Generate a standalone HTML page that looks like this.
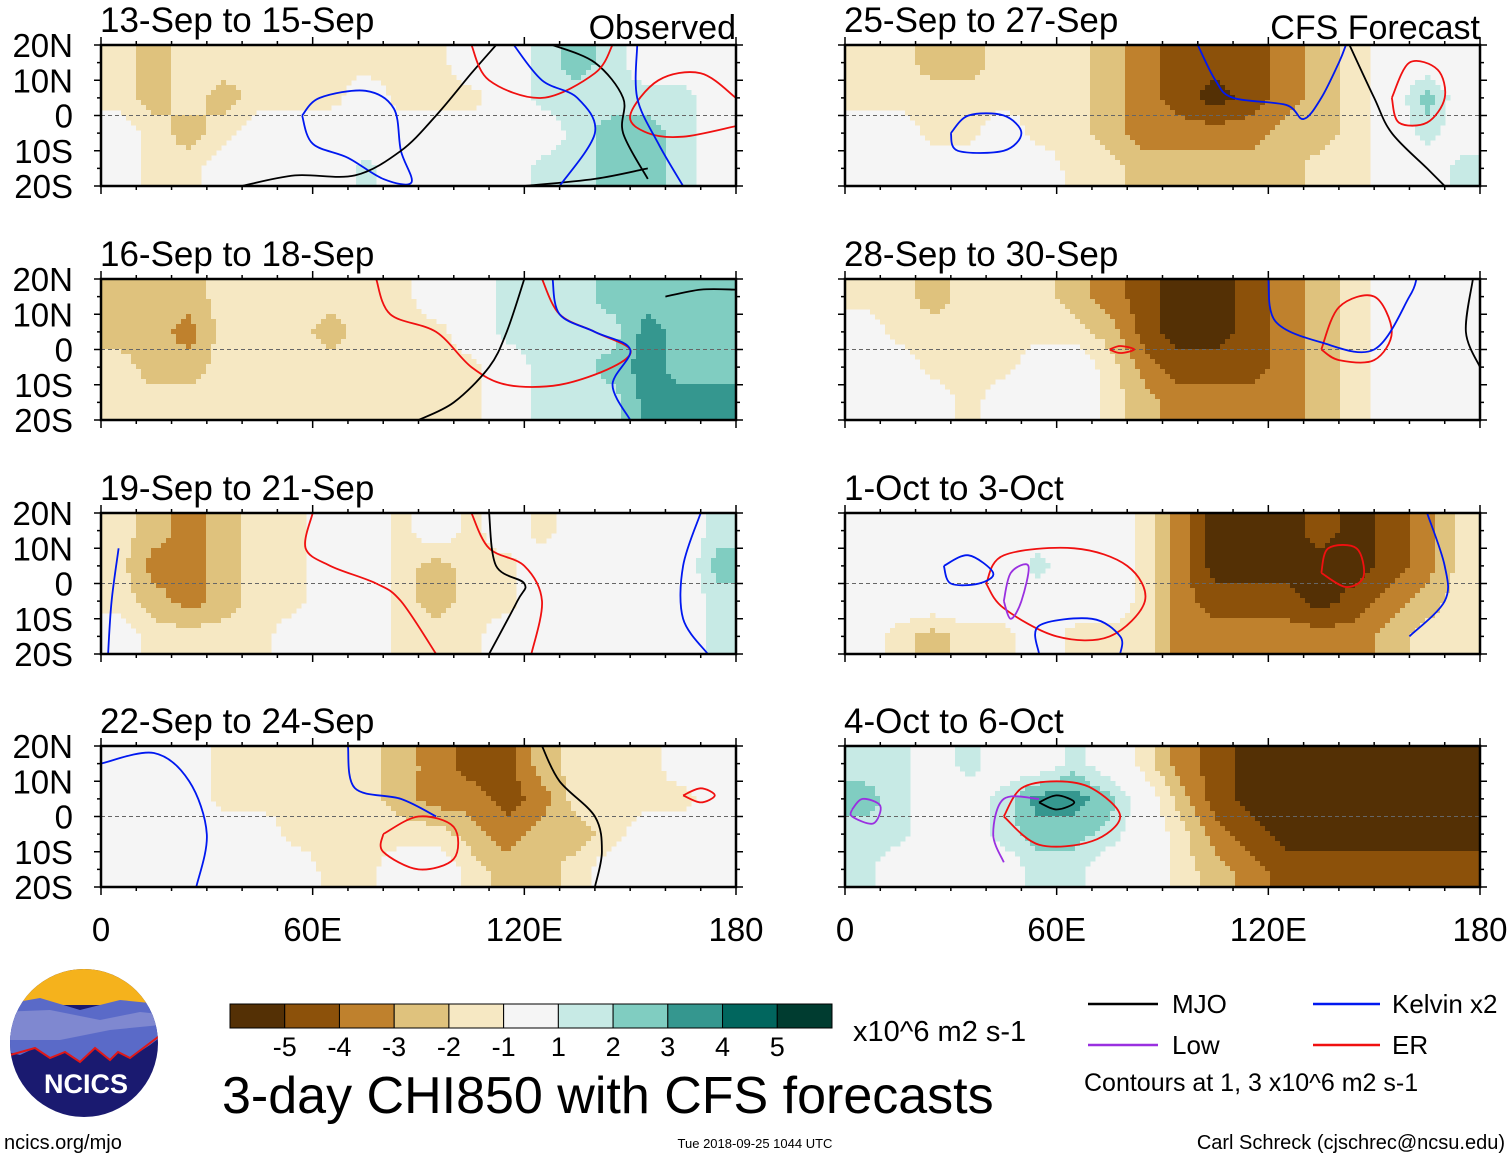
<!DOCTYPE html>
<html><head><meta charset="utf-8"><style>
html,body{margin:0;padding:0;background:#fff;}
svg{display:block;font-family:"Liberation Sans",Arial,sans-serif;}
</style></head><body>
<svg id="chart" width="1510" height="1159" viewBox="0 0 1510 1159" xmlns="http://www.w3.org/2000/svg">
<g id="panels"></g>
<g id="legend-area">
  <g id="colorbar"></g>
  <text x="853" y="1041" font-size="29">x10^6 m2 s-1</text>
  <text x="222" y="1113" font-size="52">3-day CHI850 with CFS forecasts</text>
  <g><line x1="1088" y1="1004" x2="1158" y2="1004" stroke="#000" stroke-width="2.5"/><text x="1172" y="1013" font-size="26">MJO</text></g>
  <g><line x1="1313" y1="1004" x2="1380" y2="1004" stroke="#0018f0" stroke-width="2.5"/><text x="1392" y="1013" font-size="26">Kelvin x2</text></g>
  <g><line x1="1088" y1="1045" x2="1158" y2="1045" stroke="#9a30e0" stroke-width="2.5"/><text x="1172" y="1054" font-size="26">Low</text></g>
  <g><line x1="1313" y1="1045" x2="1380" y2="1045" stroke="#f01010" stroke-width="2.5"/><text x="1392" y="1054" font-size="26">ER</text></g>
  <text x="1084" y="1091" font-size="25">Contours at 1, 3 x10^6 m2 s-1</text>
  <text x="4" y="1149" font-size="20">ncics.org/mjo</text>
  <text x="755" y="1148" font-size="13" text-anchor="middle">Tue 2018-09-25 1044 UTC</text>
  <text x="1505" y="1149" font-size="20" text-anchor="end">Carl Schreck (cjschrec@ncsu.edu)</text>
  <g>
    <clipPath id="logoclip"><circle cx="84" cy="1043" r="74"/></clipPath>
    <g clip-path="url(#logoclip)">
      <rect x="0" y="960" width="170" height="170" fill="#1a1a70"/>
      <rect x="0" y="965" width="170" height="40" fill="#f5b21c"/>
      <path d="M0 1005 L40 998 L80 1010 L120 1000 L170 1005 L170 1030 L150 1045 L130 1058 L118 1052 L110 1060 L95 1048 L80 1062 L65 1052 L50 1058 L35 1048 L20 1055 L0 1050 Z" fill="#5a6ac8"/>
      <path d="M0 1012 L50 1010 L100 1020 L140 1012 L170 1015 L160 1025 L110 1030 L60 1040 L0 1040 Z" fill="#7f88d0"/>
      <path d="M10 1055 L35 1048 L50 1058 L65 1052 L80 1062 L95 1048 L110 1060 L118 1052 L130 1058 L170 1028" fill="none" stroke="#e01818" stroke-width="2"/>
    </g>
    <text x="86" y="1093" font-size="27" font-weight="bold" fill="#fff" text-anchor="middle">NCICS</text>
  </g>
</g>
</svg>
<script>
// ---- data ----
const lonTicks = ["0","60E","120E","180"];
const latTicks = ["20N","10N","0","10S","20S"];
const titles = ["13-Sep to 15-Sep","16-Sep to 18-Sep","19-Sep to 21-Sep","22-Sep to 24-Sep","25-Sep to 27-Sep","28-Sep to 30-Sep","1-Oct to 3-Oct","4-Oct to 6-Oct"];
const levels = [-5,-4,-3,-2,-1,1,2,3,4,5];
const levelLabels = ["-5","-4","-3","-2","-1","1","2","3","4","5"];
const palette = ["#543005","#8c510a","#bf812d","#dfc27d","#f6e8c3","#f5f5f5","#c7eae5","#80cdc1","#35978f","#01665e","#003c30"];
const field0 = [
[-1.5,-2.5,-1.5,-1.5,-1.5,-1.5,-1.5,-1.5,-1.5,-1.5,0,0,1.5,2.5,1.5,0,0,0],
[-1.5,-2.5,-1.5,-2.5,-1.5,-1.5,-1.5,0,-1.5,-1.5,-1.5,0,1.5,1.5,1.5,1.5,1.5,0],
[0,-1.5,-2.5,-1.5,0,0,0,0,0,0,0,0,0,1.5,2.5,2.5,1.5,0],
[0,-1.5,-1.5,0,0,0,0,1.5,0,0,0,0,1.5,1.5,2.5,2.5,1.5,0]];
const field1 = [
[-2.5,-2.5,-2.5,-1.5,-1.5,-1.5,-1.5,-1.5,-1.5,0,0,1.5,1.5,1.5,2.5,2.5,2.5,2.5],
[-2.5,-2.5,-3.5,-1.5,-1.5,-1.5,-2.5,-1.5,-1.5,-1.5,0,1.5,1.5,1.5,1.5,3.5,2.5,2.5],
[-1.5,-2.5,-2.5,-1.5,-1.5,-1.5,-1.5,-1.5,-1.5,-1.5,-1.5,0,1.5,1.5,2.5,3.5,2.5,2.5],
[-1.5,-1.5,-1.5,-1.5,-1.5,-1.5,-1.5,-1.5,-1.5,-1.5,-1.5,0,1.5,1.5,1.5,3.5,3.5,3.5]];
const field2 = [
[-1.5,-2.5,-3.5,-2.5,-1.5,-1.5,0,0,-1.5,0,-1.5,0,-1.5,0,0,0,0,1.5],
[-1.5,-3.5,-3.5,-2.5,-1.5,-1.5,0,0,-1.5,-2.5,-1.5,-1.5,0,0,0,0,0,2.5],
[-1.5,-2.5,-3.5,-2.5,-1.5,-1.5,0,0,-1.5,-2.5,-1.5,-1.5,0,0,0,0,0,1.5],
[0,-1.5,-1.5,-1.5,-1.5,0,0,0,-1.5,-1.5,-1.5,0,0,0,0,0,0,1.5]];
const field3 = [
[0,0,0,-1.5,-1.5,-1.5,-1.5,-1.5,-2.5,-3.5,-4.5,-4.5,-2.5,-1.5,-1.5,-1.5,0,0],
[0,0,0,-1.5,-1.5,-1.5,-1.5,-1.5,-2.5,-3.5,-3.5,-4.5,-3.5,-1.5,-1.5,-1.5,-1.5,0],
[0,0,0,0,0,-1.5,-1.5,-1.5,-1.5,-1.5,-2.5,-3.5,-2.5,-2.5,-1.5,0,0,0],
[0,0,0,0,0,0,-1.5,-1.5,0,0,-1.5,-2.5,-2.5,-1.5,0,0,0,0]];
const field4 = [
[-1.5,-1.5,-2.5,-2.5,-1.5,-1.5,-1.5,-2.5,-3.5,-4.5,-4.5,-4.5,-3.5,-2.5,-1.5,0,0,0],
[-1.5,-1.5,-1.5,-1.5,-1.5,-1.5,-1.5,-2.5,-3.5,-4.5,-5.5,-4.5,-3.5,-2.5,-1.5,0,2.5,0],
[0,0,-1.5,-1.5,0,-1.5,-1.5,-2.5,-3.5,-3.5,-3.5,-3.5,-2.5,-2.5,-1.5,0,1.5,0],
[0,0,0,0,0,0,-1.5,-1.5,-2.5,-2.5,-2.5,-2.5,-2.5,-1.5,-1.5,0,0,1.5]];
const field5 = [
[-1.5,-1.5,-2.5,-1.5,-1.5,-1.5,-2.5,-3.5,-4.5,-5.5,-5.5,-4.5,-3.5,-2.5,-1.5,0,0,0],
[0,-1.5,-1.5,-1.5,-1.5,-1.5,-1.5,-2.5,-4.5,-5.5,-5.5,-4.5,-3.5,-2.5,-1.5,0,0,0],
[0,0,-1.5,-1.5,-1.5,0,0,-1.5,-3.5,-4.5,-4.5,-4.5,-3.5,-2.5,-1.5,0,0,0],
[0,0,0,-1.5,0,0,0,-1.5,-2.5,-3.5,-3.5,-3.5,-3.5,-2.5,-1.5,0,0,0]];
const field6 = [
[0,0,0,0,0,0,0,0,-1.5,-3.5,-5.5,-5.5,-5.5,-4.5,-5.5,-4.5,-3.5,-1.5],
[0,0,0,0,0,1.5,0,0,-1.5,-3.5,-5.5,-5.5,-5.5,-5.5,-5.5,-4.5,-3.5,-1.5],
[0,0,0,0,0,0,0,0,-1.5,-3.5,-4.5,-4.5,-4.5,-5.5,-4.5,-3.5,-2.5,-1.5],
[0,-1.5,-2.5,-1.5,-1.5,0,-1.5,-1.5,-1.5,-3.5,-3.5,-3.5,-3.5,-3.5,-3.5,-2.5,-1.5,-1.5]];
const field7 = [
[1.5,1.5,0,1.5,0,0,1.5,0,-1.5,-3.5,-4.5,-5.5,-5.5,-5.5,-5.5,-5.5,-5.5,-5.5],
[2.5,1.5,0,0,1.5,3.5,3.5,2.5,0,-2.5,-4.5,-5.5,-5.5,-5.5,-5.5,-5.5,-5.5,-5.5],
[1.5,1.5,0,0,1.5,2.5,2.5,1.5,0,-1.5,-3.5,-4.5,-5.5,-5.5,-5.5,-5.5,-5.5,-5.5],
[1.5,0,0,0,0,1.5,1.5,0,0,-1.5,-2.5,-3.5,-4.5,-4.5,-4.5,-4.5,-4.5,-4.5]];
const fields = [field0,field1,field2,field3,field4,field5,field6,field7];
const contours0 = [
["kelvin",[[57,0],[62,5],[75,7],[83,2],[85,-10],[88,-19],[80,-18],[70,-12],[60,-8],[57,0]]],
["mjo",[[40,-20],[55,-17],[72,-17],[85,-10],[95,0],[105,12],[112,20]]],
["mjo",[[128,20],[140,15],[148,5],[148,-5],[155,-18]]],
["mjo",[[120,-20],[140,-18],[155,-15]]],
["er",[[105,20],[110,10],[125,5],[140,12],[145,20]]],
["er",[[180,5],[170,12],[158,10],[150,0],[155,-5],[165,-6],[180,-3]]],
["kelvin",[[117,20],[125,10],[135,5],[140,-5],[130,-20]]],
["kelvin",[[152,20],[152,5],[158,-8],[165,-20]]]];
const contours1 = [
["er",[[78,20],[82,10],[95,5],[105,-5],[115,-10],[130,-10],[145,-5],[150,0],[140,5],[130,10],[125,20]]],
["mjo",[[90,-20],[100,-15],[110,-5],[115,5],[120,20]]],
["mjo",[[160,15],[170,17],[180,17]]],
["kelvin",[[128,20],[130,10],[140,5],[150,0],[145,-10],[150,-20]]]];
const contours2 = [
["er",[[60,20],[58,10],[65,5],[78,0],[85,-5],[95,-20]]],
["er",[[105,20],[110,10],[120,5],[125,-5],[122,-20]]],
["mjo",[[110,20],[112,5],[120,0],[118,-5],[110,-20]]],
["kelvin",[[170,20],[165,5],[165,-10],[172,-20]]],
["kelvin",[[2,-20],[3,-5],[5,10]]]];
const contours3 = [
["kelvin",[[0,15],[15,18],[25,10],[30,-5],[27,-20]]],
["kelvin",[[70,20],[72,8],[85,5],[95,0]]],
["er",[[80,-5],[90,0],[100,-3],[100,-12],[90,-15],[80,-10],[80,-5]]],
["mjo",[[125,20],[130,10],[140,0],[142,-10],[140,-20]]],
["er",[[165,6],[170,8],[174,6],[170,4],[165,6]]]];
const contours4 = [
["kelvin",[[100,20],[105,10],[110,5],[125,3],[130,-1],[135,5],[140,15],[142,20]]],
["kelvin",[[30,-5],[35,0],[45,0],[50,-5],[45,-10],[32,-10],[30,-5]]],
["mjo",[[143,20],[150,5],[155,-5],[165,-15],[170,-20]]],
["er",[[155,5],[160,15],[168,13],[170,5],[165,-2],[157,-2],[155,5]]]];
const contours5 = [
["er",[[135,0],[140,12],[150,15],[155,5],[150,-3],[140,-3],[135,0]]],
["kelvin",[[120,20],[122,8],[135,2],[150,0],[160,15],[162,20]]],
["mjo",[[178,20],[176,5],[180,-5]]],
["er",[[75,0],[78,1],[82,0],[78,-1],[75,0]]]];
const contours6 = [
["er",[[40,0],[45,8],[65,10],[80,5],[85,-5],[75,-15],[60,-15],[45,-7],[40,0]]],
["er",[[135,3],[137,10],[145,10],[147,2],[142,-1],[135,3]]],
["kelvin",[[28,5],[35,8],[42,3],[38,0],[30,0],[28,5]]],
["low",[[45,-5],[47,3],[52,5],[50,-5],[47,-10],[45,-5]]],
["kelvin",[[55,-20],[55,-12],[70,-10],[78,-15],[78,-20]]],
["kelvin",[[165,20],[170,5],[170,-5],[160,-15]]]];
const contours7 = [
["er",[[45,0],[50,8],[60,10],[70,8],[78,0],[70,-7],[55,-8],[45,0]]],
["mjo",[[55,4],[60,6],[65,4],[60,2],[55,4]]],
["low",[[45,-13],[42,-5],[45,5],[55,5]]],
["low",[[2,2],[5,5],[10,3],[8,-2],[2,0],[2,2]]]];
const contoursAll = [contours0,contours1,contours2,contours3,contours4,contours5,contours6,contours7];

const NS="http://www.w3.org/2000/svg";
const PW=635, PH=141, STEP=5;
const colX=[101,845], rowY=[45,279,513,746];
const strokes={mjo:"#000",kelvin:"#0018f0",er:"#f01010",low:"#9a30e0"};
function el(tag,attrs,parent){const e=document.createElementNS(NS,tag);for(const k in attrs)e.setAttribute(k,attrs[k]);if(parent)parent.appendChild(e);return e;}
function colorFor(v){let i=0;while(i<levels.length&&v>levels[i])i++;return palette[i];}
function sample(f,lon,lat){
  let fj=(lon-5)/10, fi=(15-lat)/10;
  fj=Math.max(0,Math.min(17,fj)); fi=Math.max(0,Math.min(3,fi));
  const j0=Math.min(16,Math.floor(fj)), i0=Math.min(2,Math.floor(fi));
  const tx=fj-j0, ty=fi-i0;
  const a=f[i0][j0]*(1-tx)+f[i0][j0+1]*tx, b=f[i0+1][j0]*(1-tx)+f[i0+1][j0+1]*tx;
  return a*(1-ty)+b*ty;
}
function smoothPath(pts){
  let d="M"+pts[0][0].toFixed(1)+" "+pts[0][1].toFixed(1);
  for(let i=0;i<pts.length-1;i++){
    const p0=pts[Math.max(0,i-1)],p1=pts[i],p2=pts[i+1],p3=pts[Math.min(pts.length-1,i+2)];
    const c1=[p1[0]+(p2[0]-p0[0])/6,p1[1]+(p2[1]-p0[1])/6];
    const c2=[p2[0]-(p3[0]-p1[0])/6,p2[1]-(p3[1]-p1[1])/6];
    d+=" C"+c1.map(v=>v.toFixed(1)).join(" ")+" "+c2.map(v=>v.toFixed(1)).join(" ")+" "+p2[0].toFixed(1)+" "+p2[1].toFixed(1);
  }
  return d;
}
const root=document.getElementById("panels");
for(let p=0;p<8;p++){
  const px=colX[Math.floor(p/4)], py=rowY[p%4];
  const xs=lon=>px+lon/180*PW, ys=lat=>py+(20-lat)/40*PH;
  const g=el("g",{},root);
  
  
  const cp=el("clipPath",{id:"clip"+p},g);
  el("rect",{x:px,y:py,width:PW,height:PH},cp);
  const fg=el("g",{"clip-path":"url(#clip"+p+")"},g);
  el("rect",{x:px,y:py,width:PW,height:PH,fill:"#f5f5f5"},fg);
  const cells=el("g",{"shape-rendering":"crispEdges"},fg);
  
  
  const f=fields[p];
  for(let sy=0;sy<PH;sy+=STEP){
    const lat=20-(sy+STEP/2)/PH*40;
    let runStart=0, runCol=null;
    for(let sx=0;sx<=PW;sx+=STEP){
      let col=null;
      if(sx<PW){const lon=(sx+STEP/2)/PW*180; col=colorFor(sample(f,lon,lat));}
      if(col!==runCol){
        if(runCol!==null && runCol!=="#f5f5f5"){
          el("rect",{x:px+runStart,y:py+sy,width:sx-runStart+0.6,height:STEP+0.6,fill:runCol},cells);
        }
        runStart=sx; runCol=col;
      }
    }
  }
  const eq=el("line",{x1:px,y1:ys(0),x2:px+PW,y2:ys(0),stroke:"#666","stroke-width":1,"stroke-dasharray":"4 3"},fg);
  
  
  for(const c of contoursAll[p]){
    const pts=c[1].map(q=>[xs(q[0]),ys(q[1])]);
    const path=el("path",{d:smoothPath(pts),fill:"none",stroke:strokes[c[0]],"stroke-width":1.8},fg);
    
    
  }
  const frame=el("rect",{x:px,y:py,width:PW,height:PH,fill:"none",stroke:"#000","stroke-width":2.5},g);
  
  
  for(let lon=0;lon<=180;lon+=10){
    const L=lon%60==0?8:4;
    el("line",{x1:xs(lon),y1:py,x2:xs(lon),y2:py-L,stroke:"#000","stroke-width":1.5},g);
    el("line",{x1:xs(lon),y1:py+PH,x2:xs(lon),y2:py+PH+L,stroke:"#000","stroke-width":1.5},g);
  }
  for(let lat=-20;lat<=20;lat+=5){
    const L=lat%10==0?7:4;
    el("line",{x1:px,y1:ys(lat),x2:px-L,y2:ys(lat),stroke:"#000","stroke-width":1.5},g);
    el("line",{x1:px+PW,y1:ys(lat),x2:px+PW+L,y2:ys(lat),stroke:"#000","stroke-width":1.5},g);
  }
  const t=el("text",{x:px-1,y:py-13,"font-size":35},g);
  t.textContent=titles[p];
  
  
  if(p<4){
    for(let k=0;k<5;k++){
      const yl=el("text",{x:73,y:ys(20-k*10)+12,"font-size":33,"text-anchor":"end"},g);
      yl.textContent=latTicks[k];
      
      
    }
  }
  if(p==0||p==4){
    const s=el("text",{x:px+PW,y:py-6,"font-size":34,"text-anchor":"end"},g);
    s.textContent=p==0?"Observed":"CFS Forecast";
    
    
  }
  if(p%4==3){
    for(let k=0;k<4;k++){
      const xl=el("text",{x:xs(k*60),y:941,"font-size":33,"text-anchor":"middle"},g);
      xl.textContent=lonTicks[k];
      
      
    }
  }
}
const cb=document.getElementById("colorbar");
const cbX=230, cbW=602, cbY=1004, cbH=24, bw=cbW/palette.length;
for(let i=0;i<palette.length;i++){
  const r=el("rect",{x:cbX+i*bw,y:cbY,width:bw,height:cbH,fill:palette[i],stroke:"#000","stroke-width":1},cb);
  
  
}
for(let i=0;i<levelLabels.length;i++){
  const t=el("text",{x:cbX+(i+1)*bw,y:1056,"font-size":27,"text-anchor":"middle"},cb);
  t.textContent=levelLabels[i];
  
  
}
</script>
</body></html>
